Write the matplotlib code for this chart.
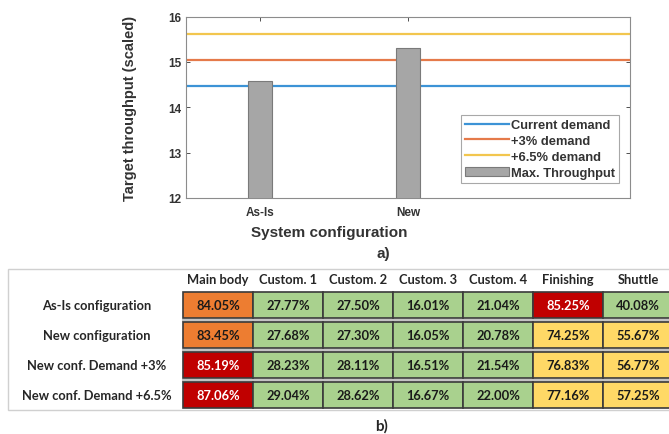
import matplotlib
matplotlib.use('Agg')
import matplotlib.pyplot as plt
from matplotlib.patches import Rectangle

# a) throughput chart data
configs = ['As-Is', 'New']
max_throughput = [14.57, 15.30]
demand_labels = ['Current demand', '+3% demand', '+6.5% demand']
demand_levels = [14.47, 15.04, 15.62]
demand_colors = ['#3C93D6', '#E57A4A', '#F2C64E']

# b) utilisation table data
stations = ['Main body', 'Custom. 1', 'Custom. 2', 'Custom. 3', 'Custom. 4', 'Finishing', 'Shuttle']
scenarios = ['As-Is configuration', 'New configuration', 'New conf. Demand +3%', 'New conf. Demand +6.5%']
utilisation = [
    [84.05, 27.77, 27.50, 16.01, 21.04, 85.25, 40.08],
    [83.45, 27.68, 27.30, 16.05, 20.78, 74.25, 55.67],
    [85.19, 28.23, 28.11, 16.51, 21.54, 76.83, 56.77],
    [87.06, 29.04, 28.62, 16.67, 22.00, 77.16, 57.25],
]


def cell_color(v):
    # traffic light colouring of the utilisation
    if v >= 85:
        return '#C00000', 'white'
    if v >= 80:
        return '#ED7D31', '#1a1a1a'
    if v >= 50:
        return '#FFD966', '#1a1a1a'
    return '#A9D18E', '#1a1a1a'


W, H = 669, 435
fig = plt.figure(figsize=(W / 100, H / 100), dpi=100)
plt.rcParams['font.family'] = 'Liberation Sans'
plt.rcParams['font.weight'] = 'bold'
dark = '#333333'

# ---- top chart ----
ax = fig.add_axes([186 / W, 1 - 199 / H, 444 / W, 181.5 / H])
x = list(range(1, len(configs) + 1))
for lvl, lab, col in zip(demand_levels, demand_labels, demand_colors):
    ax.plot([0.5, 3.5], [lvl, lvl], color=col, lw=1.6, label=lab, zorder=2)
ax.bar(x, max_throughput, width=0.16, color='#A6A6A6', edgecolor='#7a7a7a',
       linewidth=0.8, label='Max. Throughput', zorder=3)
ax.set_xlim(0.5, 3.5)
ax.set_ylim(12, 16)
ax.set_xticks(x)
ax.set_xticklabels(configs)
ax.set_yticks([12, 13, 14, 15, 16])
ax.tick_params(direction='in', top=True, right=True, labelsize=8.5, length=3,
               colors=dark, width=0.6)
ax.tick_params(axis='x', pad=6)
for s in ax.spines.values():
    s.set_color('#8c8c8c')
    s.set_linewidth(0.8)
ax.set_ylabel('Target throughput (scaled)', fontsize=10.5, color=dark,
              fontweight='bold', labelpad=22)
leg = ax.legend(loc='lower right', bbox_to_anchor=(0.99, 0.045), fontsize=9.3,
                handlelength=3.4, handletextpad=0.1, labelspacing=0.3,
                borderpad=0.35, fancybox=False, framealpha=1)
leg.get_frame().set_edgecolor('#a8a8a8')
leg.get_frame().set_linewidth(0.8)
for t in leg.get_texts():
    t.set_color(dark)
fig.text(329 / W, 1 - 233 / H, 'System configuration', ha='center', va='center',
         fontsize=11, color=dark)
fig.text(383 / W, 1 - 254 / H, 'a)', ha='center', va='center', fontsize=11, color=dark)

# ---- bottom table ----
col_w, row_p, row_h = 70, 30, 26
x0, y0 = 183, 293
axt = fig.add_axes([0, 0, 1, 1], zorder=-1)
axt.set_xlim(-x0 / col_w, (W - x0) / col_w)
axt.set_ylim((H - y0) / row_p, -y0 / row_p)
axt.axis('off')

# outer frame
axt.add_patch(Rectangle(((8 - x0) / col_w, (270 - y0) / row_p),
                        (W + 10 - 8) / col_w, (411 - 270) / row_p,
                        facecolor='white', edgecolor='#d0d0d0', lw=1))

h = row_h / row_p
nc = len(stations)
for r in range(len(scenarios) - 1):
    axt.plot([0, nc], [r + h + (1 - h) / 2] * 2, color='#c4c4c4', lw=2.2, zorder=1)

tfont = dict(family='Lato', weight='bold', fontsize=9.3)
for j, st in enumerate(stations):
    axt.text(j + 0.5, -0.42, st, ha='center', va='center', color='#262626', **tfont)

for i, sc in enumerate(scenarios):
    axt.text(-1.23, i + h / 2, sc, ha='center', va='center', color='#262626', **tfont)
    for j, v in enumerate(utilisation[i]):
        fc, tc = cell_color(v)
        axt.add_patch(Rectangle((j, i), 1, h, facecolor=fc, edgecolor='#3a3a3a',
                                lw=1.2, zorder=2))
        axt.text(j + 0.5, i + h / 2, f'{v:.2f}%', ha='center', va='center',
                 color=tc, zorder=3, **tfont)

fig.text(382 / W, 1 - 426 / H, 'b)', ha='center', va='center', fontsize=11,
         family='Lato', weight='bold', color='#262626')

fig.savefig('out.png', dpi=100)
